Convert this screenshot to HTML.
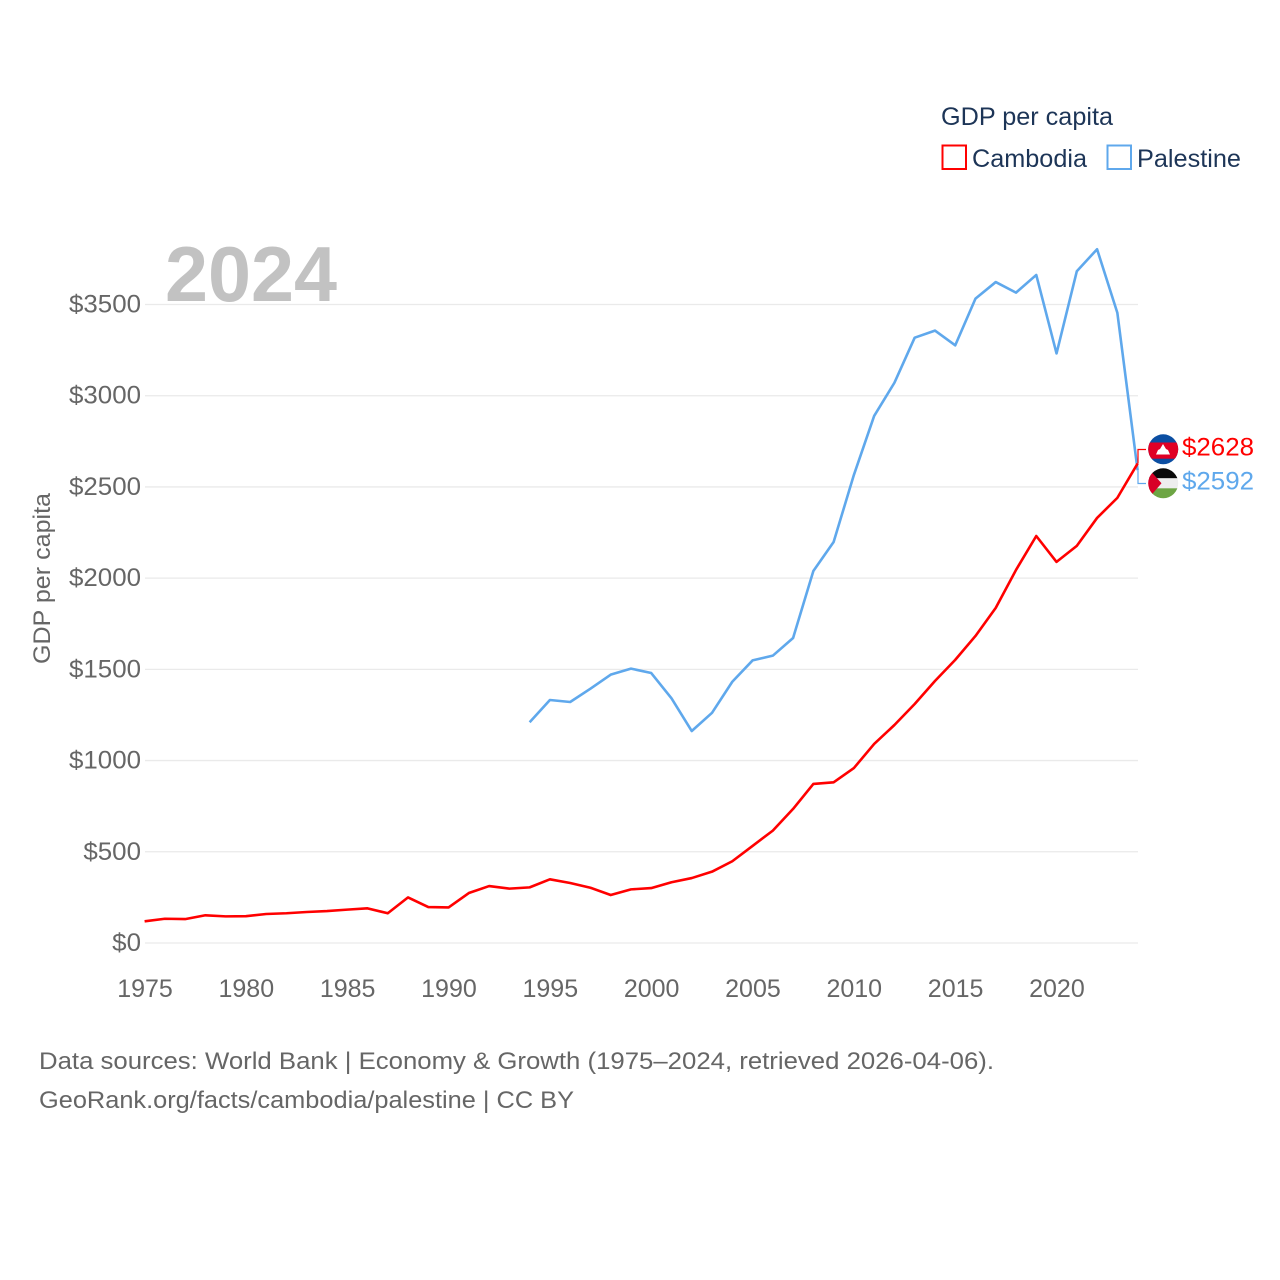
<!DOCTYPE html>
<html lang="en">
<head>
<meta charset="utf-8">
<title>GDP per capita: Cambodia and Palestine</title>
<style>
html,body{margin:0;padding:0;background:#fff;}
svg{display:block;}
text{font-family:"Liberation Sans",sans-serif;}
</style>
</head>
<body>
<svg id="chart" width="1280" height="1280" viewBox="0 0 1280 1280" xmlns="http://www.w3.org/2000/svg">
  <defs>
    <clipPath id="clip-kh"><circle cx="1163.2" cy="449.3" r="15"/></clipPath>
    <clipPath id="clip-ps"><circle cx="1163.2" cy="483.3" r="15"/></clipPath>
  </defs>
  <rect width="1280" height="1280" fill="#ffffff"/>
  <g id="grid"></g>
  <g id="yticks"></g>
  <g id="xticks"></g>
  <text transform="translate(50,578.5) rotate(-90)" text-anchor="middle" font-size="24" fill="#666666" textLength="171" lengthAdjust="spacingAndGlyphs">GDP per capita</text>
  <text x="165" y="301" font-size="78" font-weight="700" fill="#c2c2c2" textLength="172" lengthAdjust="spacingAndGlyphs">2024</text>
  <g id="series"></g>
  <g id="end-labels"></g>

  <g clip-path="url(#clip-kh)">
    <rect x="1148" y="434" width="31" height="31" fill="#0b4ea2"/>
    <rect x="1148" y="442.5" width="31" height="16.2" fill="#e00025"/>
    <polygon points="1156,454.5 1158,450 1160,449 1163,444 1166,449 1168,450 1170,454.5" fill="#ffffff"/>
  </g>
  <g clip-path="url(#clip-ps)">
    <rect x="1148" y="468" width="31" height="10.3" fill="#0a0a0a"/>
    <rect x="1148" y="478.3" width="31" height="10" fill="#eeeeee"/>
    <rect x="1148" y="488.3" width="31" height="10.7" fill="#6da544"/>
    <polygon points="1148,468 1161.5,483.3 1148,499" fill="#d80027"/>
  </g>

  <g>
    <text x="941" y="125" font-size="25" fill="#1d3557" textLength="172" lengthAdjust="spacingAndGlyphs">GDP per capita</text>
    <g>
      <rect x="942.5" y="145.5" width="23.5" height="23.5" fill="#ffffff" stroke="#ff0000" stroke-width="2"/>
      <text x="972" y="167" font-size="25" fill="#1d3557" textLength="115" lengthAdjust="spacingAndGlyphs">Cambodia</text>
    </g>
    <g>
      <rect x="1107.5" y="145.5" width="23.5" height="23.5" fill="#ffffff" stroke="#5fa8ec" stroke-width="2"/>
      <text x="1137" y="167" font-size="25" fill="#1d3557" textLength="104" lengthAdjust="spacingAndGlyphs">Palestine</text>
    </g>
  </g>

  <text x="39" y="1069" font-size="24.5" fill="#666666" textLength="955" lengthAdjust="spacingAndGlyphs">Data sources: World Bank | Economy &amp; Growth (1975–2024, retrieved 2026-04-06).</text>
  <text x="39" y="1108" font-size="24.5" fill="#666666" textLength="535" lengthAdjust="spacingAndGlyphs">GeoRank.org/facts/cambodia/palestine | CC BY</text>
</svg>
<script>
var years = [1975,1976,1977,1978,1979,1980,1981,1982,1983,1984,1985,1986,1987,1988,1989,1990,1991,1992,1993,1994,1995,1996,1997,1998,1999,2000,2001,2002,2003,2004,2005,2006,2007,2008,2009,2010,2011,2012,2013,2014,2015,2016,2017,2018,2019,2020,2021,2022,2023,2024];
var cambodiaValues = [119,133,131,152,146,147,159,163,170,175,183,190,163,250,197,195,274,312,298,305,349,329,303,263,294,301,333,356,391,448,532,616,735,872,881,959,1091,1195,1310,1436,1552,1683,1837,2045,2231,2089,2177,2330,2440,2628];
var palestineYears = [1994,1995,1996,1997,1998,1999,2000,2001,2002,2003,2004,2005,2006,2007,2008,2009,2010,2011,2012,2013,2014,2015,2016,2017,2018,2019,2020,2021,2022,2023,2024];
var palestineValues = [1210,1332,1321,1394,1471,1504,1480,1341,1162,1262,1432,1549,1575,1672,2039,2198,2566,2889,3071,3318,3357,3276,3532,3623,3565,3662,3232,3682,3803,3455,2592];
var yTickValues = [0,500,1000,1500,2000,2500,3000,3500];
var xTickValues = [1975,1980,1985,1990,1995,2000,2005,2010,2015,2020];

var NS = 'http://www.w3.org/2000/svg';
function xScale(year){ return 144.6 + (year - 1975) * (1137.6 - 144.6) / (2024 - 1975); }
function yScale(value){ return 943 - value * (943 - 304.5) / 3500; }
function make(tag, parent, attrs, content){
  var el = document.createElementNS(NS, tag);
  for (var k in attrs) { el.setAttribute(k, attrs[k]); }
  if (content !== undefined) { el.textContent = content; }
  parent.appendChild(el);
  return el;
}
function linePoints(xs, vs){
  return xs.map(function(x, i){ return xScale(x).toFixed(2) + ',' + yScale(vs[i]).toFixed(2); }).join(' ');
}

var gridGroup = document.getElementById('grid');
var yTickGroup = document.getElementById('yticks');
var xTickGroup = document.getElementById('xticks');
var seriesGroup = document.getElementById('series');
var endGroup = document.getElementById('end-labels');

yTickValues.forEach(function(v){
  var line = make('line', gridGroup, {x1:145, x2:1138, y1:yScale(v), y2:yScale(v), stroke:'#eaeaea', 'stroke-width':1.3});
  
  
  var tickText = '$' + v;
  var label = make('text', yTickGroup, {x:141, y:yScale(v) + 8, 'text-anchor':'end', 'font-size':25, fill:'#666666', textLength:tickText.length * 14.4, lengthAdjust:'spacingAndGlyphs'}, tickText);
  
  
});
xTickValues.forEach(function(t){
  var label = make('text', xTickGroup, {x:xScale(t) + 0.4, y:997, 'text-anchor':'middle', 'font-size':25, fill:'#666666'}, String(t));
  
  
});

var lastYear = years[years.length - 1];
var cambodiaLast = cambodiaValues[cambodiaValues.length - 1];
var palestineLast = palestineValues[palestineValues.length - 1];

var connectorKh = make('polyline', endGroup, {points:(xScale(lastYear) + 0.4) + ',' + yScale(cambodiaLast) + ' ' + (xScale(lastYear) + 0.4) + ',449.5 1146,449.5', fill:'none', stroke:'#ff0000', 'stroke-width':1.2});


var connectorPs = make('polyline', endGroup, {points:(xScale(lastYear) + 0.4) + ',' + yScale(palestineLast) + ' ' + (xScale(lastYear) + 0.4) + ',483.5 1146,483.5', fill:'none', stroke:'#5fa8ec', 'stroke-width':1.2});



var palestineLine = make('polyline', seriesGroup, {points:linePoints(palestineYears, palestineValues), fill:'none', stroke:'#5fa8ec', 'stroke-width':2.6, 'stroke-linejoin':'round'});


var cambodiaLine = make('polyline', seriesGroup, {points:linePoints(years, cambodiaValues), fill:'none', stroke:'#ff0000', 'stroke-width':2.6, 'stroke-linejoin':'round'});



var endKhText = '$' + cambodiaLast;
var endKh = make('text', endGroup, {x:1182, y:455.5, 'font-size':25, fill:'#ff0000', textLength:72, lengthAdjust:'spacingAndGlyphs'}, endKhText);


var endPsText = '$' + palestineLast;
var endPs = make('text', endGroup, {x:1182, y:489.5, 'font-size':25, fill:'#5fa8ec', textLength:72, lengthAdjust:'spacingAndGlyphs'}, endPsText);


</script>
</body>
</html>
